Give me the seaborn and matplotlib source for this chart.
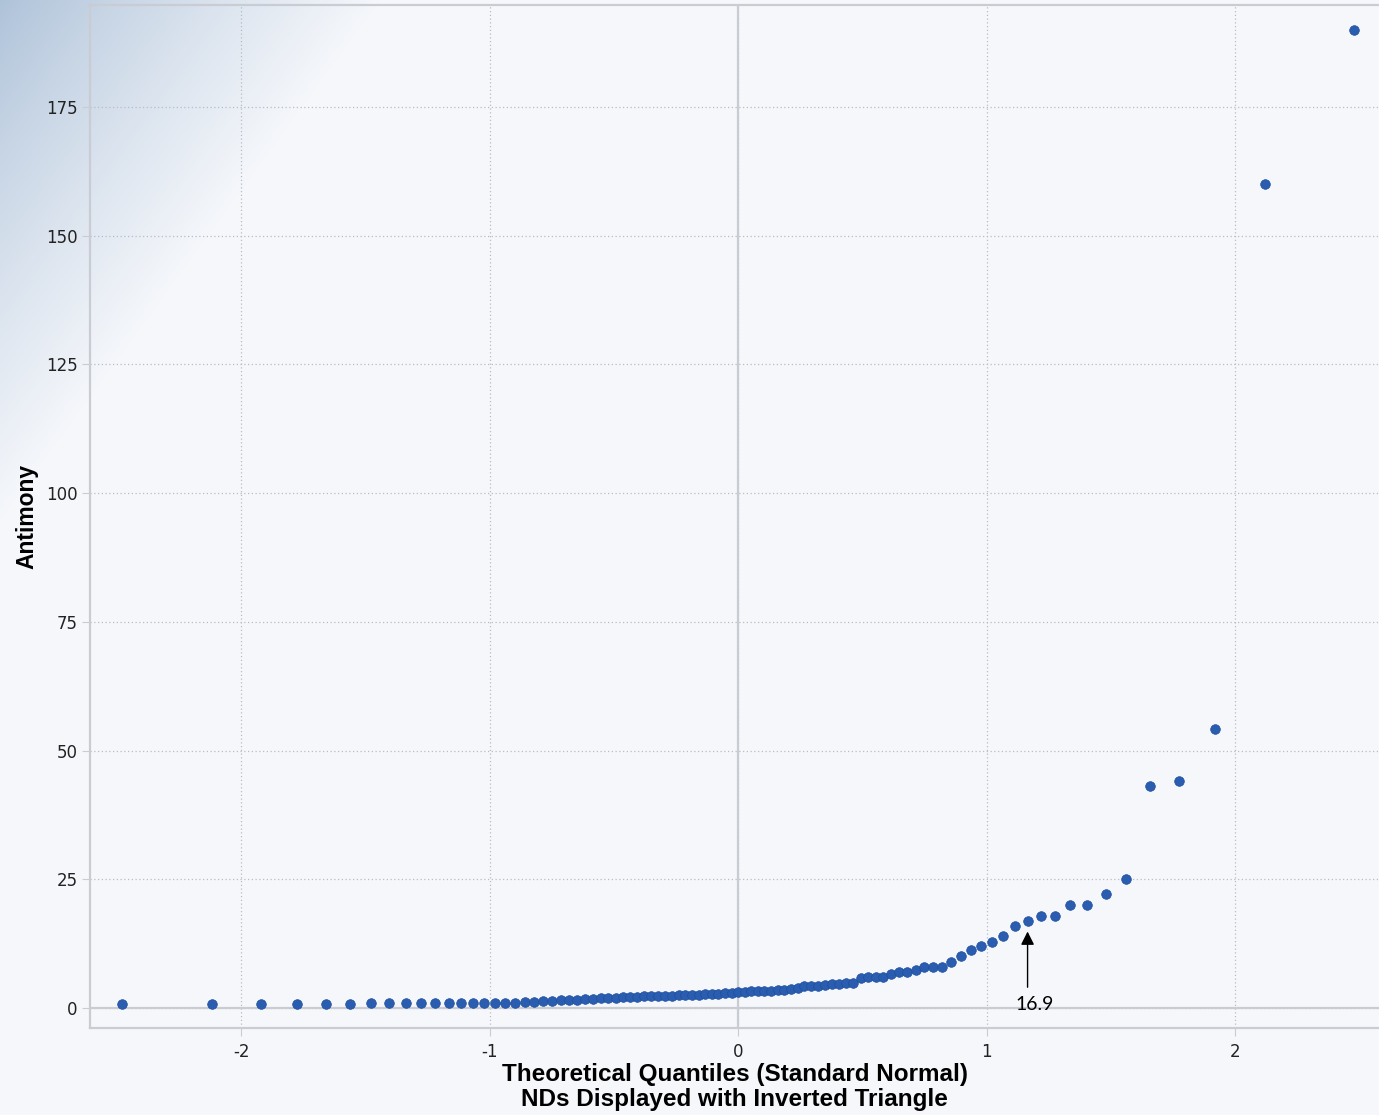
import numpy as np
import seaborn as sns
import matplotlib.pyplot as plt
from statistics import NormalDist

# Antimony results, sorted
antimony = [0.8, 0.8, 0.8, 0.8, 0.8, 0.8,
            1.0, 1.0, 1.0, 1.0, 1.0, 1.0, 1.0, 1.0, 1.0, 1.0, 1.0, 1.0,
            1.2, 1.2, 1.3,
            1.4, 1.5, 1.6, 1.6,
            1.7, 1.8, 1.9, 2.0, 2.0,
            2.1, 2.1, 2.2, 2.3, 2.3,
            2.3, 2.4, 2.4, 2.5, 2.5,
            2.6, 2.6, 2.7, 2.8, 2.8,
            2.9, 3.0, 3.1,
            3.2, 3.3, 3.3, 3.4, 3.4, 3.5, 3.5, 3.7, 3.8,
            4.2, 4.3, 4.3, 4.4, 4.6, 4.7, 4.8, 4.9,
            5.8, 6.1, 6.1, 6.1, 6.7,
            7.0, 7.0, 7.4, 8.0, 8.0, 8.0,
            9.0, 10.1, 11.2, 12.1, 12.9, 14.0, 15.9, 16.9, 17.9, 17.9,
            20.1, 20.1, 22.1, 25.0, 43.1, 44.1, 54.2, 160.0, 190.0]
annot_value = 16.9
annot_label = "16.9"
x_ticks = [-2, -1, 0, 1, 2]
y_ticks = [0, 25, 50, 75, 100, 125, 150, 175]

# theoretical normal quantiles (Blom plotting positions)
n = len(antimony)
nd = NormalDist()
quantiles = [nd.inv_cdf((i + 1 - 0.375) / (n + 0.25)) for i in range(n)]

plt.rcParams['axes.unicode_minus'] = False

fig = plt.figure(figsize=(13.79, 11.15), dpi=100)
fig.patch.set_facecolor('#f5f7fb')

# soft blue gradient in the top-left corner
bg = fig.add_axes([0, 0, 1, 1], zorder=0)
bg.axis('off')
W, H = 1379, 1115
gx, gy = np.meshgrid(np.arange(W), np.arange(H))
t = np.clip(gx / 380.0 + gy / 520.0, 0, 1) ** 0.85
c0 = np.array([0.68, 0.76, 0.85])
c1 = np.array([0.961, 0.969, 0.984])
img = c0[None, None, :] * (1 - t[..., None]) + c1[None, None, :] * t[..., None]
bg.imshow(img, extent=[0, 1, 0, 1], aspect='auto', origin='upper')

ax = fig.add_axes([90 / W, 87 / H, 1 - 90 / W, (1028 - 5) / H], zorder=1)
ax.patch.set_alpha(0)

sns.scatterplot(x=quantiles, y=antimony, ax=ax, s=48, color='#2a5db0',
                edgecolor='#1d4e9e', linewidth=0.5, zorder=4)

ax.set_xlim(-2.608, 2.579)
ax.set_ylim(-3.88, 194.8)
ax.set_xticks(x_ticks)
ax.set_xticklabels([str(v) for v in x_ticks])
ax.set_yticks(y_ticks)
ax.set_yticklabels([str(v) for v in y_ticks])

ax.grid(True, linestyle=(0, (1, 2)), color='#b8bcc6', linewidth=0.9, zorder=1)
ax.axhline(0, color='#c9ccd3', lw=1.6, zorder=2)
ax.axvline(0, color='#c9ccd3', lw=1.6, zorder=2)

for side in ['left', 'bottom', 'top']:
    ax.spines[side].set_color('#c9ccd3')
    ax.spines[side].set_linewidth(1.6)
ax.spines['right'].set_visible(False)

ax.tick_params(axis='both', length=6, width=0.8, color='#c9ccd3',
               labelsize=12, labelcolor='#222222')
ax.tick_params(axis='x', pad=5)
ax.tick_params(axis='y', pad=3)

ax.set_xlabel("Theoretical Quantiles (Standard Normal)\nNDs Displayed with Inverted Triangle",
              fontsize=17.5, fontweight='bold', family='Liberation Sans',
              linespacing=1.15, labelpad=1)
ax.set_ylabel("Antimony", fontsize=16.5, fontweight='bold',
              family='Liberation Sans', labelpad=5)

# annotation arrow
idx = antimony.index(annot_value)
qx = quantiles[idx]
ax.annotate("", xy=(qx, annot_value - 1.5), xytext=(qx, 3.5),
            arrowprops=dict(arrowstyle='-|>', color='black', lw=1,
                            mutation_scale=20), zorder=5)
ax.text(qx + 0.028, 0.6, annot_label, ha='center', va='center',
        fontsize=14, family='Lato', color='black', zorder=5)

fig.savefig("out.png", dpi=100, facecolor=fig.get_facecolor())
